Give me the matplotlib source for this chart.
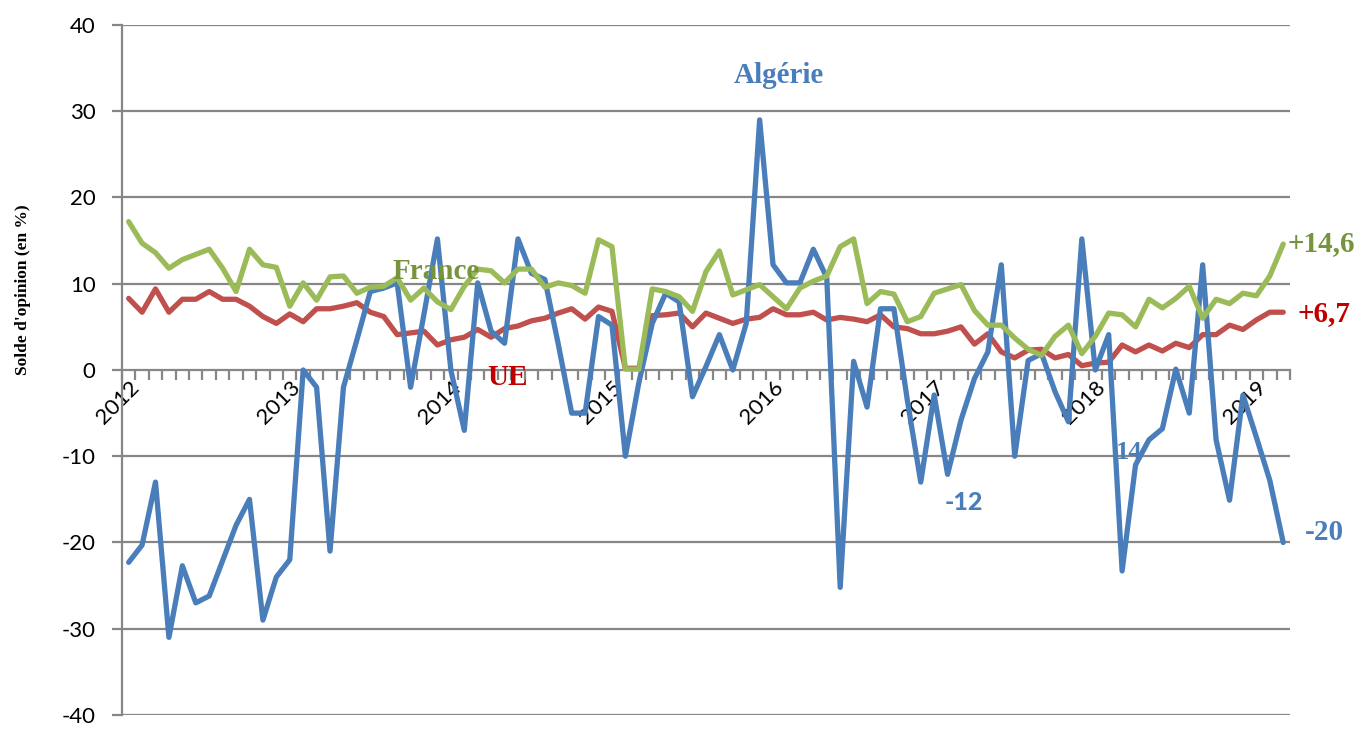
import numpy as np
import matplotlib.pyplot as plt

plt.rcParams['axes.unicode_minus'] = False

# soldes d'opinion mensuels, janv. 2012 -> mars 2019
algerie = [-22.3, -20.3, -13.0, -31.0, -22.7, -27.0, -26.2, -22.1, -18.0, -15.0, -29.0, -24.0,
           -22.0, 0.0, -2.0, -21.0, -2.0, 3.5, 9.1, 9.5, 10.1, -2.0, 6.5, 15.2,
           0.0, -7.0, 10.1, 4.5, 3.1, 15.2, 11.2, 10.5, 3.0, -5.0, -5.0, 6.2,
           5.2, -10.0, -1.5, 5.4, 8.9, 7.9, -3.1, 0.4, 4.1, 0.0, 5.4, 29.0,
           12.2, 10.1, 10.1, 14.0, 10.7, -25.2, 1.0, -4.3, 7.1, 7.1, -3.5, -13.0,
           -2.9, -12.1, -5.8, -1.0, 2.1, 12.2, -10.0, 1.1, 1.9, -2.5, -6.0, 15.2,
           0.0, 4.1, -23.3, -11.0, -8.1, -6.8, 0.1, -5.0, 12.2, -8.1, -15.1, -2.9,
           -7.8, -12.8, -20.0]
france = [17.2, 14.7, 13.6, 11.8, 12.8, 13.4, 14.0, 11.8, 9.1, 14.0, 12.2, 11.9,
          7.4, 10.1, 8.1, 10.8, 10.9, 8.9, 9.6, 9.7, 10.7, 8.1, 9.5, 7.9,
          7.0, 9.7, 11.7, 11.5, 10.1, 11.7, 11.7, 9.6, 10.1, 9.8, 8.9, 15.1,
          14.3, 0.1, 0.1, 9.4, 9.1, 8.5, 6.8, 11.4, 13.8, 8.7, 9.3, 9.9,
          8.5, 7.1, 9.5, 10.3, 10.9, 14.3, 15.2, 7.7, 9.1, 8.8, 5.6, 6.2,
          8.9, 9.4, 9.9, 6.9, 5.2, 5.2, 3.7, 2.4, 1.7, 3.9, 5.2, 1.9,
          3.9, 6.6, 6.4, 5.0, 8.2, 7.2, 8.3, 9.7, 6.0, 8.2, 7.7, 8.9,
          8.6, 10.9, 14.6]
ue = [8.3, 6.7, 9.4, 6.7, 8.2, 8.2, 9.1, 8.2, 8.2, 7.4, 6.2, 5.4,
      6.5, 5.6, 7.1, 7.1, 7.4, 7.8, 6.7, 6.2, 4.1, 4.3, 4.5, 2.9,
      3.5, 3.8, 4.7, 3.8, 4.8, 5.1, 5.7, 6.0, 6.6, 7.1, 5.9, 7.3,
      6.8, 0.2, 0.2, 6.3, 6.4, 6.6, 5.0, 6.6, 6.0, 5.4, 5.9, 6.1,
      7.1, 6.4, 6.4, 6.7, 5.8, 6.1, 5.9, 5.6, 6.4, 5.0, 4.8, 4.2,
      4.2, 4.5, 5.0, 3.0, 4.2, 2.1, 1.4, 2.3, 2.4, 1.4, 1.8, 0.5,
      0.8, 0.9, 2.9, 2.1, 2.9, 2.2, 3.1, 2.6, 4.1, 4.1, 5.2, 4.7,
      5.8, 6.7, 6.7]
annees = ['2012', '2013', '2014', '2015', '2016', '2017', '2018', '2019']

bleu = '#4A7EBB'
rouge = '#C0504D'
vert = '#9BBB59'
gris = '#868686'

fig = plt.figure(figsize=(13.64, 7.31), dpi=100)
ax = fig.add_axes([0.0894, 0.0219, 0.8563, 0.9439])

x = np.arange(len(algerie))
style = dict(lw=3.8, solid_joinstyle='round', solid_capstyle='round')
ax.plot(x, ue, color=rouge, zorder=3, **style)
ax.plot(x, algerie, color=bleu, zorder=4, **style)
ax.plot(x, france, color=vert, zorder=5, **style)

ax.set_xlim(-0.5, len(algerie) - 0.5)
ax.set_ylim(-40, 40)
ax.set_yticks(range(-40, 41, 10))
for v in range(-40, 41, 10):
    if v != 0:
        ax.axhline(v, color=gris, lw=1.6, zorder=1)

for s in ['top', 'right']:
    ax.spines[s].set_visible(False)
ax.spines['bottom'].set_position(('data', 0))
ax.spines['bottom'].set_color(gris)
ax.spines['bottom'].set_linewidth(1.6)
ax.spines['left'].set_color(gris)
ax.spines['left'].set_linewidth(1.6)

ax.set_xticks(np.arange(0, len(algerie), 12))
ax.set_xticklabels(annees, rotation=45, ha='right', va='top', rotation_mode='anchor',
                   fontsize=16, family='Lato')
ax.set_xticks(np.arange(-0.5, len(algerie), 1), minor=True)
ax.tick_params(axis='x', which='major', length=0, pad=5)
ax.tick_params(axis='x', which='minor', length=7, width=1.6, color=gris, direction='out')
ax.tick_params(axis='y', length=7, width=1.6, color=gris, pad=12, labelsize=16)
for t in ax.get_yticklabels():
    t.set_family('Lato')

ax.set_ylabel("Solde d'opinion (en %)", family='Liberation Serif', fontweight='bold',
              fontsize=12.5)
ax.yaxis.set_label_coords(-0.078, 0.616)

serif = dict(family='Liberation Serif', fontweight='bold', fontsize=21)
ax.text(48.4, 34.2, 'Algérie', color=bleu, ha='center', va='center', **serif)
ax.text(22.9, 11.4, 'France', color='#77933C', ha='center', va='center', zorder=6, **serif)
ax.text(28.25, -0.9, 'UE', color='#C00000', ha='center', va='center', **serif)
ax.text(86.35, 14.7, '+14,6', color='#77933C', ha='left', va='center', clip_on=False, **serif)
ax.text(87.1, 6.5, '+6,7', color='#C00000', ha='left', va='center', clip_on=False, **serif)
ax.text(87.6, -18.8, '-20', color=bleu, ha='left', va='center', clip_on=False, **serif)
ax.text(74.55, -9.6, '14', color=bleu, ha='center', va='center', zorder=2,
        family='Liberation Serif', fontweight='bold', fontsize=19)
ax.text(62.2, -15.4, '-12', color=bleu, ha='center', va='center',
        family='Lato', fontweight='black', fontsize=18)

fig.savefig('out.png', dpi=100)
